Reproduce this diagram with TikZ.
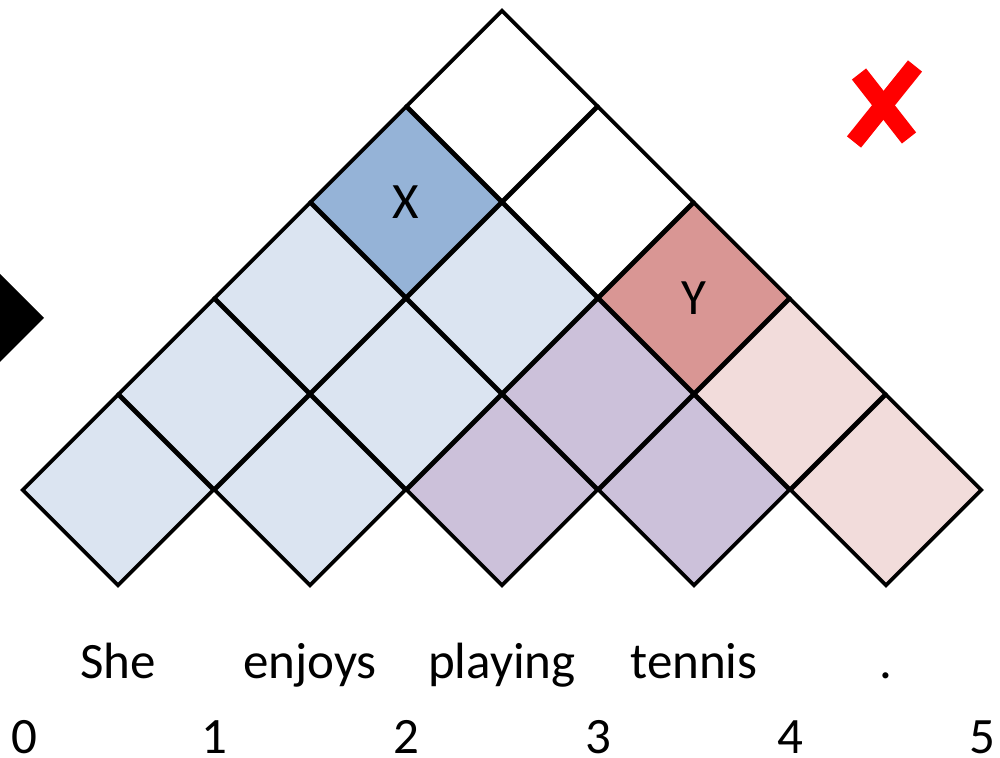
\documentclass[tikz,border=0pt]{standalone}
\usepackage{fontspec}
\setmainfont{Carlito}
\usetikzlibrary{shapes.geometric}
\definecolor{lblue}{HTML}{DBE4F1}
\definecolor{xblue}{HTML}{95B3D7}
\definecolor{yred}{HTML}{D99694}
\definecolor{lpink}{HTML}{F2DCDB}
\definecolor{lpurple}{HTML}{CCC1DA}
\begin{document}
\begin{tikzpicture}[x=0.5pt,y=-0.5pt,
  cell/.style={diamond, aspect=1, draw=black, line width=1.9pt, minimum width=96pt, minimum height=96pt, inner sep=0pt, font=\fontsize{25.5}{30}\selectfont},
  word/.style={anchor=base, inner sep=0pt, font=\fontsize{25.5}{30}\selectfont}]
\useasboundingbox (0,0) rectangle (1000,758);
% row L=1
\node[cell, fill=lblue]   (c01) at (118,490) {};
\node[cell, fill=lblue]   (c12) at (310,490) {};
\node[cell, fill=lpurple] (c23) at (502,490) {};
\node[cell, fill=lpurple] (c34) at (694,490) {};
\node[cell, fill=lpink]   (c45) at (886,490) {};
% row L=2
\node[cell, fill=lblue]   (c02) at (214,394) {};
\node[cell, fill=lblue]   (c13) at (406,394) {};
\node[cell, fill=lpurple] (c24) at (598,394) {};
\node[cell, fill=lpink]   (c35) at (790,394) {};
% row L=3
\node[cell, fill=lblue]   (c03) at (310,298) {};
\node[cell, fill=lblue]   (c14) at (502,298) {};
\node[cell, fill=yred]    (c25) at (694,298) {Y};
% row L=4
\node[cell, fill=xblue]   (c04) at (406,202) {X};
\node[cell, fill=white]   (c15) at (598,202) {};
% row L=5
\node[cell, fill=white]   (c05) at (502,106) {};
% words
\node[word] (w1) at (118,678) {She};
\node[word] (w2) at (310,678) {enjoys};
\node[word] (w3) at (502,678) {playing};
\node[word] (w4) at (694,678) {tennis};
\node[word] (w5) at (886,678) {.};
% indices
\node[word] (n0) at (24,753) {0};
\node[word] (n1) at (214,753) {1};
\node[word] (n2) at (406,753) {2};
\node[word] (n3) at (598,753) {3};
\node[word] (n4) at (790,753) {4};
\node[word] (n5) at (982,753) {5};
% black pointer
\fill[black] (0,274) -- (44,318) -- (0,362) -- cycle;
% red cross
\draw[red, line width=9pt] (859,74) -- (909,138);
\draw[red, line width=9pt] (915,66) -- (854,142);
\end{tikzpicture}
\end{document}
